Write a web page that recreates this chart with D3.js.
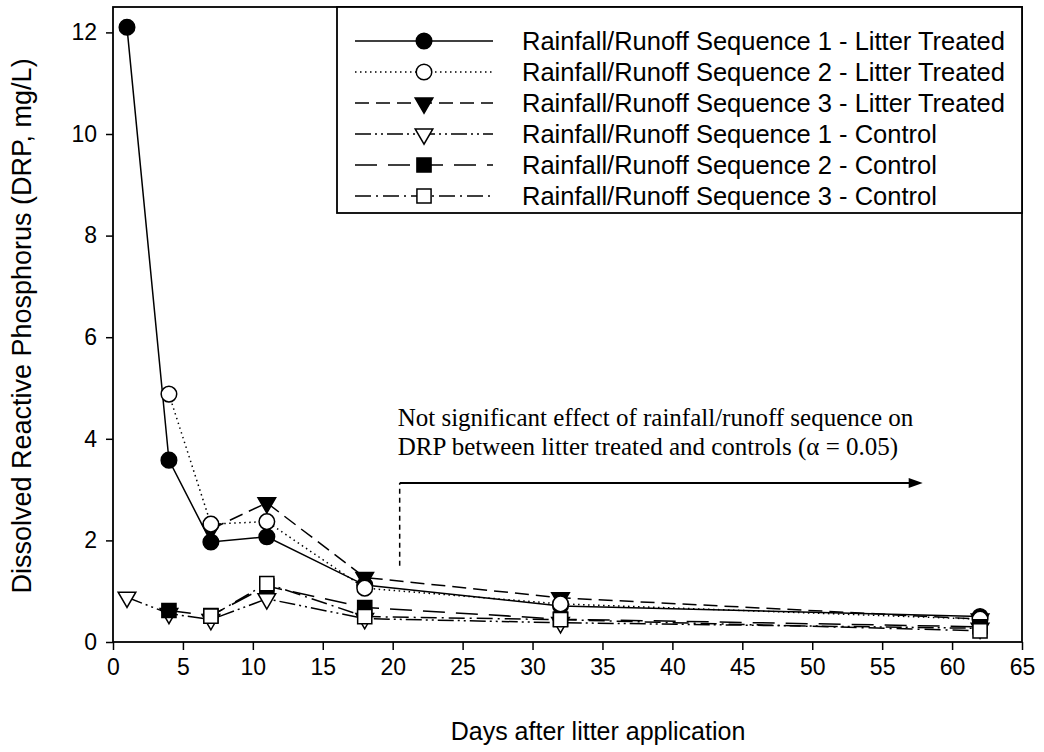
<!DOCTYPE html>
<html>
<head>
<meta charset="utf-8">
<script src="https://cdn.jsdelivr.net/npm/d3@7"></script>
<style>
  html, body { margin: 0; padding: 0; background: #fff; }
  svg { display: block; }
</style>
</head>
<body>
<svg id="chart" width="1044" height="752"></svg>
<script>
// ---------------- data ----------------
const xTicks = [0, 5, 10, 15, 20, 25, 30, 35, 40, 45, 50, 55, 60, 65];
const yTicks = [0, 2, 4, 6, 8, 10, 12];

const seriesNames = [
  "Rainfall/Runoff Sequence 1 - Litter Treated",
  "Rainfall/Runoff Sequence 2 - Litter Treated",
  "Rainfall/Runoff Sequence 3 - Litter Treated",
  "Rainfall/Runoff Sequence 1 - Control",
  "Rainfall/Runoff Sequence 2 - Control",
  "Rainfall/Runoff Sequence 3 - Control"
];

const s1TreatedDays = [1, 4, 7, 11, 18, 32, 62];
const s1TreatedDRP  = [12.1, 3.58, 1.97, 2.07, 1.12, 0.71, 0.50];

const s2TreatedDays = [4, 7, 11, 18, 32, 62];
const s2TreatedDRP  = [4.88, 2.32, 2.37, 1.06, 0.75, 0.45];

const s3TreatedDays = [7, 11, 18, 32, 62];
const s3TreatedDRP  = [2.22, 2.74, 1.27, 0.87, 0.45];

const s1ControlDays = [1, 4, 7, 11, 18, 32, 62];
const s1ControlDRP  = [0.88, 0.56, 0.44, 0.85, 0.46, 0.38, 0.27];

const s2ControlDays = [4, 7, 11, 18, 32, 62];
const s2ControlDRP  = [0.62, 0.52, 1.10, 0.68, 0.45, 0.30];

const s3ControlDays = [7, 11, 18, 32, 62];
const s3ControlDRP  = [0.51, 1.15, 0.50, 0.44, 0.22];

const annotationLines = [
  "Not significant effect of rainfall/runoff sequence on",
  "DRP between litter treated and controls (\u03B1 = 0.05)"
];
const xTitle = "Days after litter application";
const yTitle = "Dissolved Reactive Phosphorus (DRP, mg/L)";

// ---------------- layout ----------------
const svg = d3.select("#chart");
const mLeft = 113, mRight = 1022, mTop = 7, mBottom = 642;

const x = d3.scaleLinear().domain([0, 65]).range([mLeft, mRight]);
const y = d3.scaleLinear().domain([0, 12.5]).range([mBottom, mTop]);

const sans = "'Liberation Sans', Arial, Helvetica, sans-serif";
const serif = "'Liberation Serif', 'Times New Roman', serif";

const styles = [
  { dash: null,                 symbol: d3.symbolCircle,   size: 190, fill: "#000", rot: 0 },
  { dash: "1.5,3.5",            symbol: d3.symbolCircle,   size: 190, fill: "#fff", rot: 0 },
  { dash: "14,7",               symbol: d3.symbolTriangle, size: 135, fill: "#000", rot: 180 },
  { dash: "16,4,2,4,2,4",       symbol: d3.symbolTriangle, size: 135, fill: "#fff", rot: 180 },
  { dash: "22,11",              symbol: d3.symbolSquare,   size: 200, fill: "#000", rot: 0 },
  { dash: "16,5,2,5",           symbol: d3.symbolSquare,   size: 200, fill: "#fff", rot: 0 }
];

const series = [
  { days: s1TreatedDays, vals: s1TreatedDRP },
  { days: s2TreatedDays, vals: s2TreatedDRP },
  { days: s3TreatedDays, vals: s3TreatedDRP },
  { days: s1ControlDays, vals: s1ControlDRP },
  { days: s2ControlDays, vals: s2ControlDRP },
  { days: s3ControlDays, vals: s3ControlDRP }
].map((s, i) => ({
  name: seriesNames[i],
  style: styles[i],
  pts: s.days.map((d, j) => ({ d: d, v: s.vals[j] }))
}));

// ---------------- axes ----------------
const xAxis = d3.axisBottom(x).tickValues(xTicks).tickSizeOuter(0).tickSize(8).tickPadding(9);
const yAxis = d3.axisLeft(y).tickValues(yTicks).tickSizeOuter(0).tickSize(7).tickPadding(9);

const gx = svg.append("g").attr("transform", `translate(0,${mBottom})`).call(xAxis);
const gy = svg.append("g").attr("transform", `translate(${mLeft},0)`).call(yAxis);
[gx, gy].forEach(g => {
  g.select(".domain").remove();
  g.selectAll(".tick line").attr("stroke", "#000").attr("stroke-width", 1.5);
  g.selectAll(".tick text").attr("fill", "#000").style("font-family", sans).style("font-size", "23px");
});

// frame
svg.append("rect")
  .attr("x", mLeft).attr("y", mTop)
  .attr("width", mRight - mLeft).attr("height", mBottom - mTop)
  .attr("fill", "none").attr("stroke", "#000").attr("stroke-width", 1.8);

// titles
svg.append("text")
  .attr("x", 598).attr("y", 740)
  .attr("text-anchor", "middle")
  .style("font-family", sans).style("font-size", "25px")
  .text(xTitle);

svg.append("text")
  .attr("transform", "translate(31,326) rotate(-90)")
  .attr("text-anchor", "middle")
  .style("font-family", sans).style("font-size", "27px")
  .text(yTitle);

// ---------------- data lines ----------------
const line = d3.line().x(p => x(p.d)).y(p => y(p.v));
const gLines = svg.append("g");
series.forEach(s => {
  gLines.append("path")
    .datum(s.pts)
    .attr("d", line)
    .attr("fill", "none")
    .attr("stroke", "#000")
    .attr("stroke-width", 1.5)
    .attr("stroke-dasharray", s.style.dash);
});

// markers (seq 3 treated underneath, then others)
const markerOrder = [2, 0, 1, 3, 4, 5];
const gMarks = svg.append("g");
markerOrder.forEach(i => {
  const s = series[i];
  const sym = d3.symbol().type(s.style.symbol).size(s.style.size);
  gMarks.selectAll(null)
    .data(s.pts)
    .enter().append("path")
    .attr("d", sym)
    .attr("transform", p => `translate(${x(p.d)},${y(p.v)}) rotate(${s.style.rot})`)
    .attr("fill", s.style.fill)
    .attr("stroke", "#000")
    .attr("stroke-width", 1.5);
});

// ---------------- annotation ----------------
const annX = 20.5;
svg.append("text")
  .attr("x", x(annX) - 2).attr("y", y(4.26))
  .style("font-family", serif).style("font-size", "25px")
  .text(annotationLines[0]);
svg.append("text")
  .attr("x", x(annX) - 2).attr("y", y(3.69))
  .style("font-family", serif).style("font-size", "25px")
  .text(annotationLines[1]);

svg.append("line")
  .attr("x1", x(annX)).attr("x2", x(annX))
  .attr("y1", y(1.5)).attr("y2", y(3.13))
  .attr("stroke", "#000").attr("stroke-width", 1.5)
  .attr("stroke-dasharray", "5,4");
svg.append("line")
  .attr("x1", x(annX)).attr("x2", x(57.9) - 12)
  .attr("y1", y(3.13)).attr("y2", y(3.13))
  .attr("stroke", "#000").attr("stroke-width", 2);
svg.append("path")
  .attr("d", d3.line()([
    [x(57.9), y(3.13)],
    [x(57.9) - 14, y(3.13) - 5],
    [x(57.9) - 14, y(3.13) + 5]
  ]) + "Z")
  .attr("fill", "#000");

// ---------------- legend ----------------
const legX = 337, legY = mTop, legW = mRight - legX, legH = 206;
svg.append("rect")
  .attr("x", legX).attr("y", legY).attr("width", legW).attr("height", legH)
  .attr("fill", "#fff").attr("stroke", "#000").attr("stroke-width", 1.8);

const rowY0 = 41, rowStep = 31;
series.forEach((s, i) => {
  const ry = rowY0 + i * rowStep;
  svg.append("line")
    .attr("x1", 355).attr("x2", 493)
    .attr("y1", ry).attr("y2", ry)
    .attr("stroke", "#000").attr("stroke-width", 1.5)
    .attr("stroke-dasharray", s.style.dash);
  const sym = d3.symbol().type(s.style.symbol).size(s.style.size);
  svg.append("path")
    .attr("d", sym)
    .attr("transform", `translate(424,${ry}) rotate(${s.style.rot})`)
    .attr("fill", s.style.fill)
    .attr("stroke", "#000").attr("stroke-width", 1.5);
  svg.append("text")
    .attr("x", 522).attr("y", ry + 9)
    .style("font-family", sans).style("font-size", "25.5px")
    .text(s.name);
});
</script>
</body>
</html>
